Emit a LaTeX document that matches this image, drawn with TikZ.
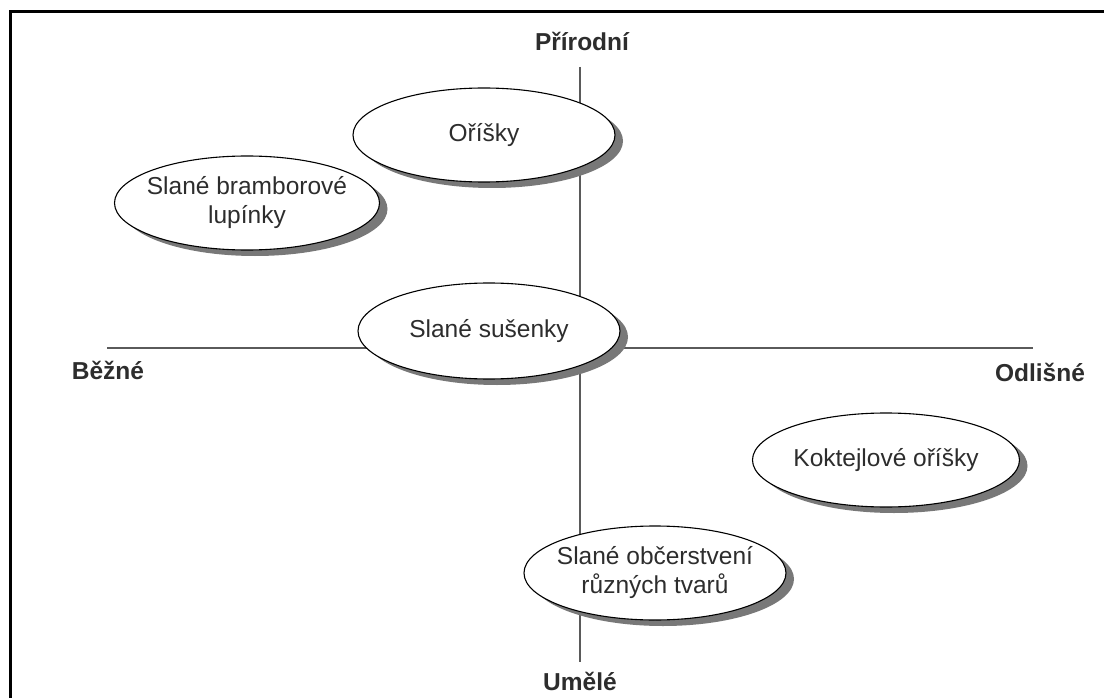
\documentclass[tikz,border=0pt]{standalone}
\usepackage{fontspec}
\setmainfont{Liberation Sans}
\usetikzlibrary{shapes.geometric,shadows}
\definecolor{axisgray}{RGB}{90,90,90}
\definecolor{txtgray}{RGB}{45,45,45}
\definecolor{shadowgray}{RGB}{120,120,120}
\tikzset{
  bubble/.style={ellipse, draw=black, line width=1.1pt, fill=white,
    minimum width=262pt, minimum height=94pt, inner xsep=-40pt, inner ysep=0pt,
    align=center, text=txtgray,
    font=\fontsize{24.5}{29}\selectfont,
    drop shadow={shadow xshift=8pt, shadow yshift=-6pt, fill=shadowgray, opacity=1}},
  axislabel/.style={font=\fontsize{24.5}{29}\selectfont\bfseries, text=txtgray, inner sep=0pt},
  axisline/.style={draw=axisgray, line width=1.4pt},
  frameline/.style={draw=black, line width=3pt}
}
\begin{document}
\begin{tikzpicture}[x=1pt,y=-1pt]
\useasboundingbox (0,0) rectangle (1104,698);
\fill[white] (0,0) rectangle (1104,698);
% frame (top and left only)
\coordinate (fbl) at (10.5,698);
\coordinate (ftl) at (10.5,12);
\coordinate (ftr) at (1104,12);
\draw[frameline] (fbl) -- (ftl) -- (ftr);
% axes
\coordinate (ytop) at (580,67);
\coordinate (ybot) at (580,662);
\coordinate (xleft) at (107,348);
\coordinate (xright) at (1033,348);
\draw[axisline] (ytop) -- (ybot);
\draw[axisline] (xleft) -- (xright);
% axis labels
\node[axislabel] (natural) at (582,41) {Přírodní};
\node[axislabel] (common) at (108,370) {Běžné};
\node[axislabel] (different) at (1040,372) {Odlišné};
\node[axislabel] (artificial) at (580,681) {Umělé};
% ellipses
\node[bubble] (nuts) at (484,135) {Oříšky};
\node[bubble, minimum width=265pt] (chips) at (247,203) {Slané bramborové\\lupínky};
\node[bubble, minimum height=96pt] (crackers) at (489,331) {Slané sušenky};
\node[bubble, minimum width=267pt] (cocktail) at (886,460) {Koktejlové oříšky};
\node[bubble, minimum width=262pt] (shapes) at (655,573) {Slané občerstvení\\různých tvarů};
\end{tikzpicture}
\end{document}
